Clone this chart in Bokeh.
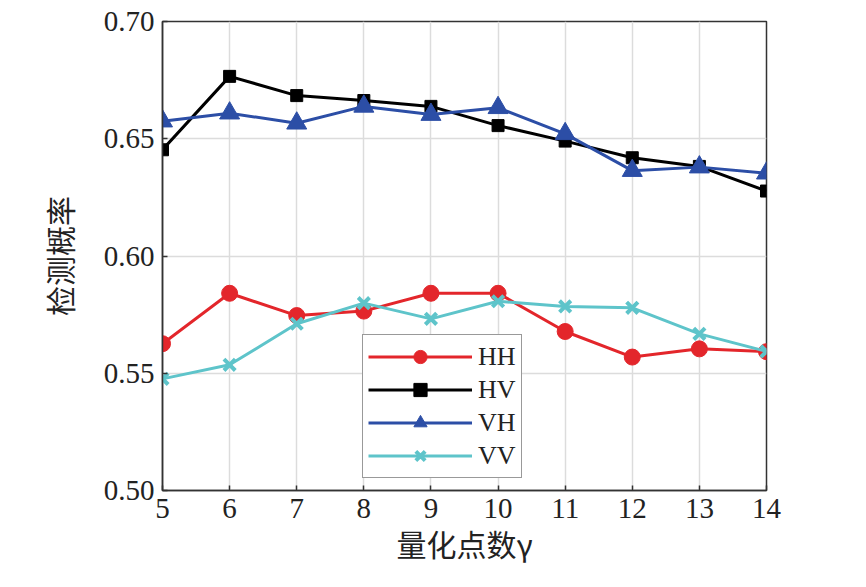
from bokeh.plotting import figure
from bokeh.models import FixedTicker, Legend, Range1d, NumeralTickFormatter
from bokeh.embed import file_html
from bokeh.resources import INLINE

x = [5, 6, 7, 8, 9, 10, 11, 12, 13, 14]
hh = [0.5626, 0.5841, 0.5746, 0.5765, 0.5841, 0.5841, 0.5678, 0.5569, 0.5604, 0.5592]
hv = [0.6453, 0.6766, 0.6684, 0.6663, 0.6638, 0.6556, 0.6490, 0.6419, 0.6382, 0.6277]
vh = [0.6575, 0.6609, 0.6566, 0.6638, 0.6603, 0.6632, 0.6521, 0.6364, 0.6379, 0.6353]
vv = [0.5476, 0.5536, 0.5711, 0.5799, 0.5732, 0.5807, 0.5785, 0.5779, 0.5668, 0.5593]
x_ticks = [5, 6, 7, 8, 9, 10, 11, 12, 13, 14]
y_ticks = [0.50, 0.55, 0.60, 0.65, 0.70]
x_label = "量化点数γ"
y_label = "检测概率"

p = figure(width=850, height=570, output_backend="svg", toolbar_location=None,
           x_range=Range1d(5, 14), y_range=Range1d(0.50, 0.70),
           min_border_left=162, min_border_right=84, min_border_top=21, min_border_bottom=80)

p.outline_line_color = "#333333"
p.outline_line_width = 1.5
p.background_fill_color = "white"
p.border_fill_color = "white"

serif = "Liberation Serif"
cjk = "Noto Sans CJK SC"

for ax in (p.xaxis[0], p.yaxis[0]):
    ax.major_tick_in = 5
    ax.major_tick_out = 0
    ax.minor_tick_in = 0
    ax.minor_tick_out = 0
    ax.axis_line_color = "#333333"
    ax.axis_line_width = 1.5
    ax.major_tick_line_color = "#333333"
    ax.major_tick_line_width = 1.5
    ax.major_label_text_font = serif
    ax.major_label_text_font_size = "29px"
    ax.major_label_text_color = "#222222"
    ax.axis_label_text_font = cjk
    ax.axis_label_text_font_size = "30px"
    ax.axis_label_text_font_style = "normal"
    ax.axis_label_text_color = "#222222"

p.xaxis.ticker = FixedTicker(ticks=x_ticks)
p.yaxis.ticker = FixedTicker(ticks=y_ticks)
p.yaxis.formatter = NumeralTickFormatter(format="0.00")
p.xaxis.axis_label = x_label
p.yaxis.axis_label = y_label
p.xaxis.major_label_standoff = 8
p.yaxis.major_label_standoff = 8
p.xaxis.axis_label_standoff = 0
p.yaxis.axis_label_standoff = 20

p.xgrid.ticker = FixedTicker(ticks=x_ticks)
p.ygrid.ticker = FixedTicker(ticks=y_ticks)
p.grid.grid_line_color = "#dcdcdc"
p.grid.grid_line_width = 1.5

red = "#e3262b"
black = "#000000"
blue = "#2c4ea6"
cyan = "#5ec4ca"

r1 = p.line(x, hh, line_color=red, line_width=3)
s1 = p.scatter(x, hh, marker="circle", size=16, fill_color=red, line_color=red)
r2 = p.line(x, hv, line_color=black, line_width=3)
s2 = p.scatter(x, hv, marker="square", size=12, fill_color=black, line_color=black)
r3 = p.line(x, vh, line_color=blue, line_width=3)
s3 = p.scatter(x, vh, marker="triangle", size=20, fill_color=blue, line_color=blue)
r4 = p.line(x, vv, line_color=cyan, line_width=3)
s4 = p.scatter(x, vv, marker="x", size=16, line_color=cyan, line_width=4)

legend = Legend(items=[("HH", [r1, s1]), ("HV", [r2, s2]), ("VH", [r3, s3]), ("VV", [r4, s4])],
                location=(200, 12), margin=0, padding=5, spacing=0,
                glyph_width=104, glyph_height=33, label_height=33, label_standoff=6,
                label_text_font=serif, label_text_font_size="26px", label_text_color="#222222",
                border_line_color="#333333", border_line_width=1.5,
                background_fill_color="white", background_fill_alpha=1.0)
p.add_layout(legend, "center")

open("out.html", "w").write(file_html(p, INLINE))
